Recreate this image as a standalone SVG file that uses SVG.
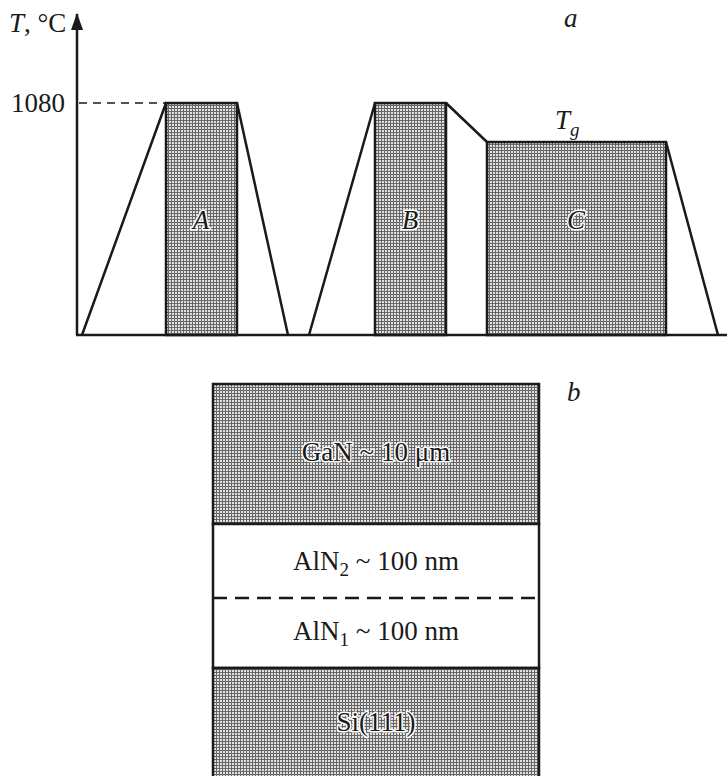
<svg xmlns="http://www.w3.org/2000/svg" width="727" height="776" viewBox="0 0 727 776">
<style>
.ln{fill:none;stroke:#1a1a1a;stroke-width:2.5;stroke-linejoin:miter}
.blk{fill:url(#dots);stroke:#1a1a1a;stroke-width:2.5}
.wht{fill:#fff;stroke:#1a1a1a;stroke-width:2.5}
.t{font-family:"Liberation Serif","Times New Roman",serif;font-size:27px;fill:#1a1a1a}
.i{font-style:italic}
.halo{paint-order:stroke;stroke:#fff;stroke-width:3;stroke-linejoin:round}
</style>
<defs>
<pattern id="dots" width="3" height="3" patternUnits="userSpaceOnUse">
<rect width="3" height="3" fill="#e0e0e0"/>
<rect x="0" y="0" width="3" height="1" fill="#666"/>
<rect x="0" y="0" width="1" height="3" fill="#666"/>
</pattern>
</defs>

<g id="axes">
<line class="ln" x1="77" y1="335" x2="77" y2="14" stroke-width="2"/>
<path d="M71,30 L77,13 L83,30 Z" fill="#1a1a1a"/>
<line class="ln" x1="76" y1="335" x2="727" y2="335" stroke-width="2"/>
<line x1="79" y1="103" x2="165" y2="103" stroke="#1a1a1a" stroke-width="1.5" stroke-dasharray="8,6"/>
<text class="t" x="9" y="32"><tspan class="i">T</tspan>, °C</text>
<text class="t" x="11" y="112">1080</text>
<text class="t i" x="564" y="27">a</text>
</g>

<g id="stepA">
<rect class="blk" x="166" y="103" width="71" height="232"/>
<path class="ln" d="M82,335 L166,103 M237,103 L288,335"/>
<text class="t i halo" x="201" y="229" text-anchor="middle">A</text>
</g>

<g id="stepB">
<rect class="blk" x="375" y="103" width="71" height="232"/>
<path class="ln" d="M309,335 L375,103 M446,103 L487,142"/>
<text class="t i halo" x="410" y="229" text-anchor="middle">B</text>
</g>

<g id="stepC">
<rect class="blk" x="487" y="142" width="179" height="193"/>
<path class="ln" d="M666,142 L718,335"/>
<text class="t i halo" x="576" y="229" text-anchor="middle">C</text>
<text class="t i" x="555" y="129">T<tspan font-size="19" dy="7">g</tspan></text>
</g>

<g id="layers">
<rect class="blk" x="213" y="384" width="326" height="140"/>
<rect class="wht" x="213" y="524" width="326" height="144"/>
<line x1="213" y1="598" x2="539" y2="598" stroke="#1a1a1a" stroke-width="2.5" stroke-dasharray="14,8"/>
<rect class="blk" x="213" y="668" width="326" height="112"/>
<text class="t halo" x="376" y="461" text-anchor="middle">GaN ~ 10 μm</text>
<text class="t" x="376" y="570" text-anchor="middle">AlN<tspan font-size="19" dy="6">2</tspan><tspan dy="-6"> ~ 100 nm</tspan></text>
<text class="t" x="376" y="640" text-anchor="middle">AlN<tspan font-size="19" dy="6">1</tspan><tspan dy="-6"> ~ 100 nm</tspan></text>
<text class="t halo" x="376" y="731" text-anchor="middle">Si(111)</text>
<text class="t i" x="567" y="401">b</text>
</g>
</svg>
